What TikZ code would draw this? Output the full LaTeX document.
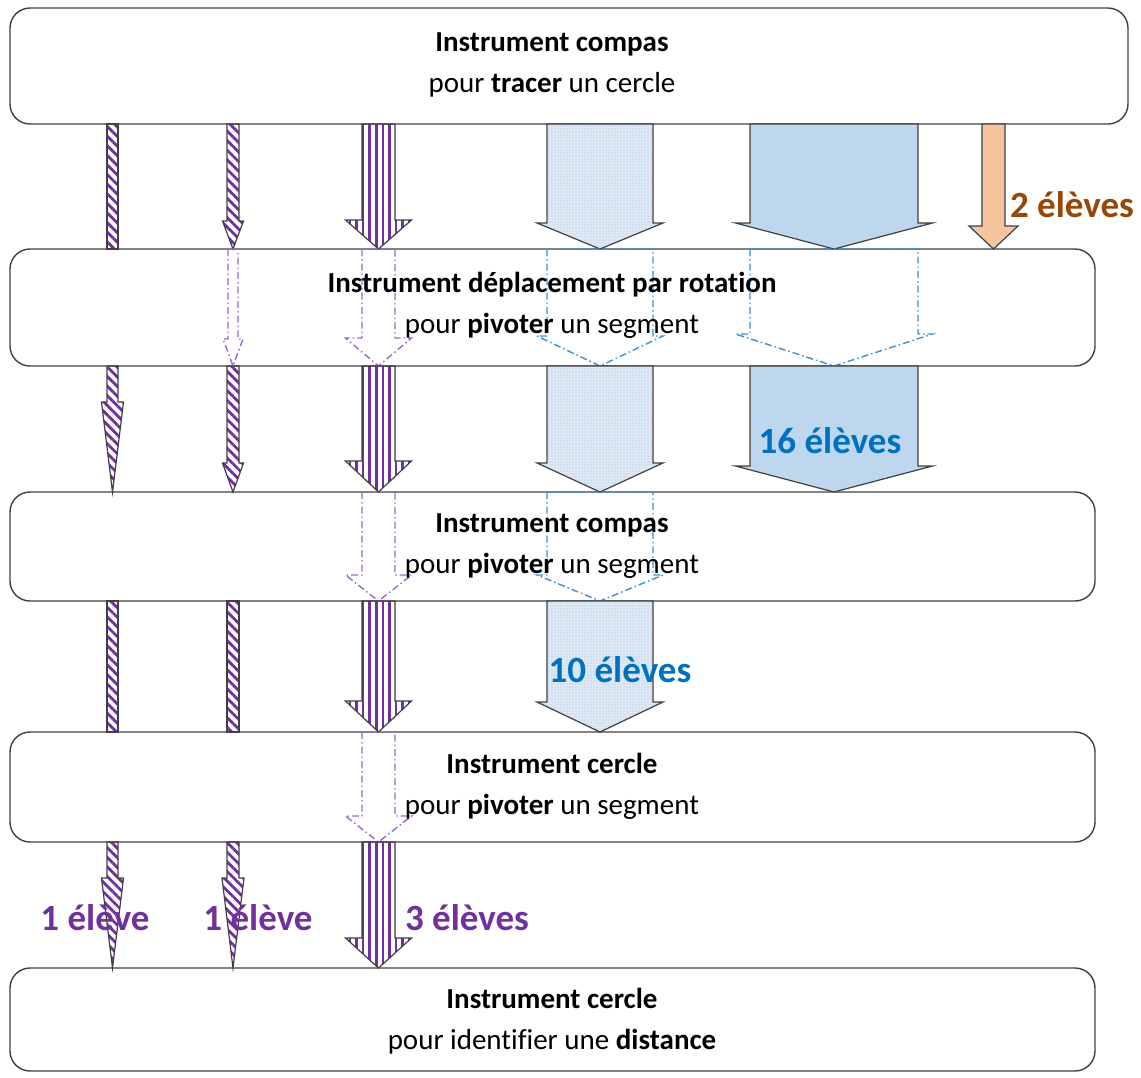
\documentclass[tikz,border=0pt]{standalone}
\usepackage{fontspec}
\setmainfont[Ligatures=NoCommon]{Carlito}
\usepackage{tikz}
\usetikzlibrary{calc,patterns.meta}
\definecolor{violetfonce}{HTML}{7030A0}
\definecolor{violetclair}{HTML}{9A68CF}
\definecolor{bleutexte}{HTML}{0070C0}
\definecolor{bleuclair}{HTML}{BDD7EE}
\definecolor{bleupale}{HTML}{E0EAF5}
\definecolor{bleupoint}{HTML}{A3C3E4}
\definecolor{bleutrait}{HTML}{3A8FD6}
\definecolor{peche}{HTML}{F7C4A0}
\definecolor{brun}{HTML}{974706}
\definecolor{contour}{HTML}{404040}

\tikzset{
  boite/.style={draw=contour,line width=1.4pt,rounded corners=20pt,inner sep=0pt,outer sep=0pt},
  titre/.style={align=center,font=\fontsize{29}{41}\selectfont},
  effectif/.style={font=\fontsize{37}{44}\selectfont\bfseries},
  fleche/.style={draw=contour,line width=1.2pt,line join=miter},
  hachure/.style={fleche,pattern={Lines[angle=-45,distance=6.8pt,line width=2.8pt]},pattern color=violetfonce},
  rayure/.style={fleche,pattern={Lines[angle=90,distance=6.6pt,line width=2.6pt]},pattern color=violetfonce},
  pointille/.style={fleche,preaction={fill=bleupale},pattern={Dots[radius=0.6pt,distance=3pt]},pattern color=bleupoint},
  plein/.style={fleche,fill=bleuclair},
  orangee/.style={fleche,fill=peche},
  fantomeviolet/.style={draw=violetclair,line width=1.4pt,dash pattern=on 7pt off 3pt on 1.5pt off 3pt},
  fantomebleu/.style={draw=bleutrait,line width=1.4pt,dash pattern=on 7pt off 3pt on 1.5pt off 3pt}
}

% style, top, tip, shaft half width, head half width, head length
\newcommand\flechebloc[6][]{%
  \path[#1] let \p1=#2, \p2=#3 in
    (\x1-#4pt,\y1) -- (\x1-#4pt,\y2+#6pt) -- (\x1-#5pt,\y2+#6pt) -- (\x1,\y2)
    -- (\x1+#5pt,\y2+#6pt) -- (\x1+#4pt,\y2+#6pt) -- (\x1+#4pt,\y1) -- cycle;}

\begin{document}
\begin{tikzpicture}[x=1pt,y=1pt]
  \useasboundingbox (0,0) rectangle (1141,-1077);

  \node[boite,minimum width=1118pt,minimum height=116pt] (b1) at (569,-66) {};
  \node[boite,minimum width=1085pt,minimum height=117pt] (b2) at (552.5,-307.5) {};
  \node[boite,minimum width=1085pt,minimum height=109pt] (b3) at (552.5,-546.5) {};
  \node[boite,minimum width=1085pt,minimum height=110pt] (b4) at (552.5,-787) {};
  \node[boite,minimum width=1085pt,minimum height=103pt] (b5) at (552.5,-1019.5) {};

  \coordinate (cA) at (112.5,0);
  \coordinate (cB) at (233,0);
  \coordinate (cC) at (378.5,0);
  \coordinate (cD) at (600,0);
  \coordinate (cE) at (834,0);
  \coordinate (cF) at (993.5,0);

  % colonne A
  \flechebloc[hachure]{(b1.south -| cA)}{(b2.north -| cA)}{5.5}{5.5}{0}
  \flechebloc[hachure]{(b2.south -| cA)}{(b3.north -| cA)}{5.5}{11}{90}
  \flechebloc[hachure]{(b3.south -| cA)}{(b4.north -| cA)}{5.5}{5.5}{0}
  \flechebloc[hachure]{(b4.south -| cA)}{(b5.north -| cA)}{5.5}{11}{90}

  % colonne B
  \flechebloc[hachure]{(b1.south -| cB)}{(b2.north -| cB)}{6}{10.5}{28}
  \flechebloc[fantomeviolet]{(b2.north -| cB)}{(b2.south -| cB)}{5}{10}{27}
  \flechebloc[hachure]{(b2.south -| cB)}{(b3.north -| cB)}{6}{10.5}{29}
  \flechebloc[hachure]{(b3.south -| cB)}{(b4.north -| cB)}{6}{6}{0}
  \flechebloc[hachure]{(b4.south -| cB)}{(b5.north -| cB)}{6}{11}{90}

  % colonne C
  \flechebloc[rayure]{(b1.south -| cC)}{(b2.north -| cC)}{16.5}{33}{29}
  \flechebloc[fantomeviolet]{(b2.north -| cC)}{(b2.south -| cC)}{16.5}{33}{28}
  \flechebloc[rayure]{(b2.south -| cC)}{(b3.north -| cC)}{16.5}{33}{31}
  \flechebloc[fantomeviolet]{(b3.north -| cC)}{(b3.south -| cC)}{16.5}{33}{26}
  \flechebloc[rayure]{(b3.south -| cC)}{(b4.north -| cC)}{16.5}{33}{31}
  \flechebloc[fantomeviolet]{(b4.north -| cC)}{(b4.south -| cC)}{16.5}{33}{26}
  \flechebloc[rayure]{(b4.south -| cC)}{(b5.north -| cC)}{16.5}{33}{30}

  % colonne D
  \flechebloc[pointille]{(b1.south -| cD)}{(b2.north -| cD)}{53}{63}{26}
  \flechebloc[fantomebleu]{(b2.north -| cD)}{(b2.south -| cD)}{53}{63}{30}
  \flechebloc[pointille]{(b2.south -| cD)}{(b3.north -| cD)}{53}{63}{29}
  \flechebloc[fantomebleu]{(b3.north -| cD)}{(b3.south -| cD)}{53}{63}{26}
  \flechebloc[pointille]{(b3.south -| cD)}{(b4.north -| cD)}{53}{63}{30}

  % colonne E
  \flechebloc[plein]{(b1.south -| cE)}{(b2.north -| cE)}{84}{98.5}{26}
  \flechebloc[fantomebleu]{(b2.north -| cE)}{(b2.south -| cE)}{84}{98.5}{32}
  \flechebloc[plein]{(b2.south -| cE)}{(b3.north -| cE)}{84}{98.5}{26}

  % colonne F
  \flechebloc[orangee]{(b1.south -| cF)}{(b2.north -| cF)}{11.5}{24.5}{23}

  \node[titre] (t1) at (552,-64.5) {\textbf{Instrument compas}\\pour \textbf{tracer} un cercle};
  \node[titre] (t2) at (552,-305) {\textbf{Instrument déplacement par rotation}\\pour \textbf{pivoter} un segment};
  \node[titre] (t3) at (552,-546.5) {\textbf{Instrument compas}\\pour \textbf{pivoter} un segment};
  \node[titre] (t4) at (552,-786.5) {\textbf{Instrument cercle}\\pour \textbf{pivoter} un segment};
  \node[titre] (t5) at (552,-1021) {\textbf{Instrument cercle}\\pour identifier une \textbf{distance}};

  \node[effectif,text=brun] (e2) at (1072,-205) {2 élèves};
  \node[effectif,text=bleutexte] (e16) at (830,-441) {16 élèves};
  \node[effectif,text=bleutexte] (e10) at (620,-670) {10 élèves};
  \node[effectif,text=violetfonce] (e1a) at (95,-918) {1 élève};
  \node[effectif,text=violetfonce] (e1b) at (258,-918) {1 élève};
  \node[effectif,text=violetfonce] (e3) at (467,-918) {3 élèves};
\end{tikzpicture}
\end{document}
